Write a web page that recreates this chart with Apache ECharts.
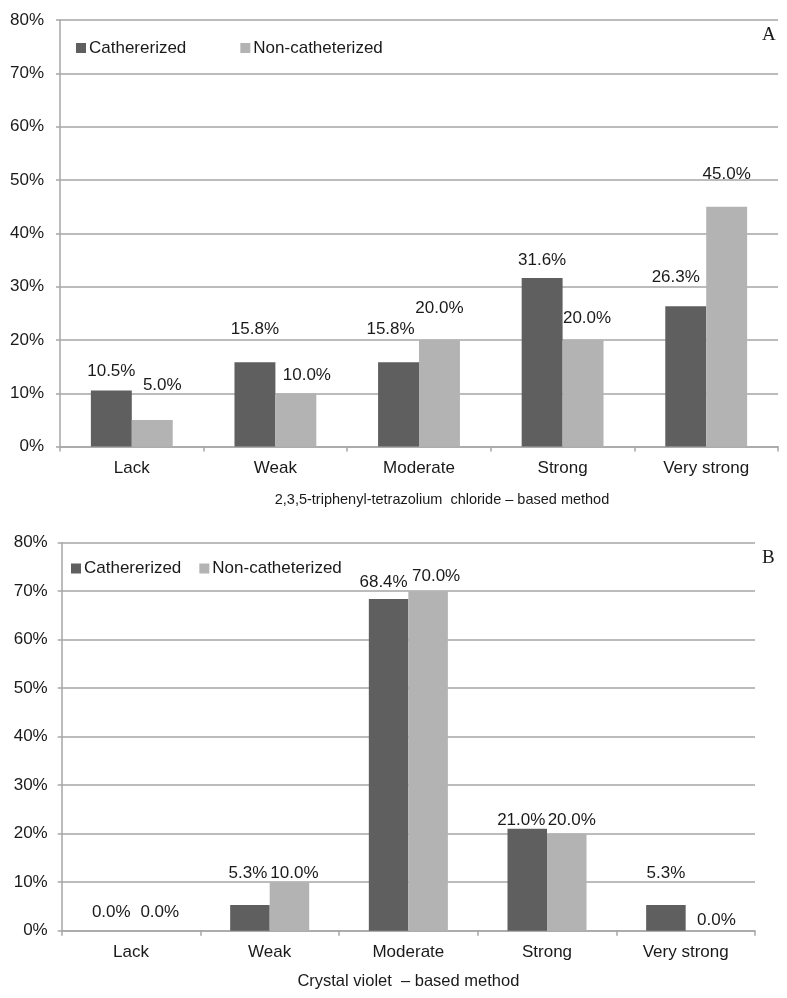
<!DOCTYPE html>
<html>
<head>
<meta charset="utf-8">
<script src="https://cdn.jsdelivr.net/npm/echarts@6/dist/echarts.min.js"></script>
<style>
html,body{margin:0;padding:0;background:#fff;}
#chart{width:787px;height:998px;}
</style>
</head>
<body>
<div id="chart"></div>
<script>
// ---- data ----
const categories = ['Lack', 'Weak', 'Moderate', 'Strong', 'Very strong'];
const seriesNames = ['Cathererized', 'Non-catheterized'];
const ttcCatheterized = [10.5, 15.8, 15.8, 31.6, 26.3];
const ttcNonCatheterized = [5.0, 10.0, 20.0, 20.0, 45.0];
const cvCatheterized = [0.0, 5.3, 68.4, 21.0, 5.3];
const cvNonCatheterized = [0.0, 10.0, 70.0, 20.0, 0.0];
const xTitleA = '2,3,5-triphenyl-tetrazolium  chloride \u2013 based method';
const xTitleB = 'Crystal violet  \u2013 based method';
const panelLetters = ['A', 'B'];
const yTickMax = 80, yTickStep = 10;

// ---- label nudges (styling only) ----
const nudgeA_cath = [[0,0],[0,-14],[-8,-14],[0,2],[-10,-10]];
const nudgeA_non  = [[10,-15],[11,2],[0,-12],[4,-2],[0,-13]];
const nudgeB_cath = [[0,1],[-2,-12],[-5,3],[-6,11],[0,-12]];
const nudgeB_non  = [[9,1],[5,11],[8,5],[5,6],[11,9]];

const FONT = 'Liberation Sans, Arial, sans-serif';
const TXT = '#1a1a1a';
const DARK = '#5f5f5f';
const LIGHT = '#b3b3b3';
const GRID = '#a6a6a6';

function items(values, nudges) {
  return values.map((v, i) => ({
    value: v,
    label: { offset: nudges[i] }
  }));
}

function barSeries(name, values, nudges, color, idx) {
  return {
    type: 'bar',
    name: name,
    xAxisIndex: idx, yAxisIndex: idx,
    data: items(values, nudges),
    barGap: '0%',
    barCategoryGap: '43%',
    itemStyle: { color: color },
    emphasis: { disabled: true },
    label: {
      show: true, position: 'top', distance: 11,
      formatter: p => p.value.toFixed(1) + '%',
      fontFamily: FONT, fontSize: 17, color: TXT
    }
  };
}

function xAxis(idx, title, nameGap, nameSize, pad) {
  return {
    type: 'category', gridIndex: idx, data: categories,
    axisLine: { lineStyle: { color: GRID, width: 1.5 } },
    axisTick: { show: true, length: 5, lineStyle: { color: GRID, width: 1.5 } },
    axisLabel: { fontFamily: FONT, fontSize: 17, color: TXT, margin: 13 },
    name: title, nameLocation: 'middle', nameGap: nameGap,
    nameTextStyle: { fontFamily: FONT, fontSize: nameSize, color: TXT, padding: pad }
  };
}

function yAxis(idx, margin) {
  return {
    type: 'value', gridIndex: idx, min: 0, max: yTickMax, interval: yTickStep,
    axisLine: { show: true, lineStyle: { color: GRID, width: 1.5 } },
    axisTick: { show: true, length: 4, lineStyle: { color: GRID, width: 1.5 } },
    splitLine: { lineStyle: { color: GRID, width: 1.5 } },
    axisLabel: { formatter: '{value}%', fontFamily: FONT, fontSize: 17, color: TXT, margin: margin }
  };
}

function legend(left, top, gap) {
  return {
    left: left, top: top, padding: 0, itemWidth: 10, itemHeight: 10, itemGap: gap,
    icon: 'rect', selectedMode: false,
    data: seriesNames,
    textStyle: { fontFamily: FONT, fontSize: 17, color: TXT, padding: [0, 0, 0, -2] }
  };
}

const chart = echarts.init(document.getElementById('chart'), null, { renderer: 'canvas' });
chart.setOption({
  backgroundColor: '#fff',
  animation: false,
  grid: [
    { left: 60, right: 9, top: 20, height: 426.6 },
    { left: 61.7, right: 32, top: 542.7, height: 388 }
  ],
  legend: [legend(76, 39.5, 54), legend(71, 560, 18)],
  xAxis: [xAxis(0, xTitleA, 46, 14.5, [0, 0, 0, 46]), xAxis(1, xTitleB, 42, 16.5, [0, 0, 0, 0])],
  yAxis: [yAxis(0, 16), yAxis(1, 14)],
  series: [
    barSeries(seriesNames[0], ttcCatheterized, nudgeA_cath, DARK, 0),
    barSeries(seriesNames[1], ttcNonCatheterized, nudgeA_non, LIGHT, 0),
    barSeries(seriesNames[0], cvCatheterized, nudgeB_cath, DARK, 1),
    barSeries(seriesNames[1], cvNonCatheterized, nudgeB_non, LIGHT, 1)
  ],
  graphic: [
    { type: 'text', left: 762, top: 26, style: { text: panelLetters[0], font: '19px "Liberation Serif", "Times New Roman", serif', fill: TXT } },
    { type: 'text', left: 762, top: 549, style: { text: panelLetters[1], font: '19px "Liberation Serif", "Times New Roman", serif', fill: TXT } }
  ]
});
</script>
</body>
</html>
